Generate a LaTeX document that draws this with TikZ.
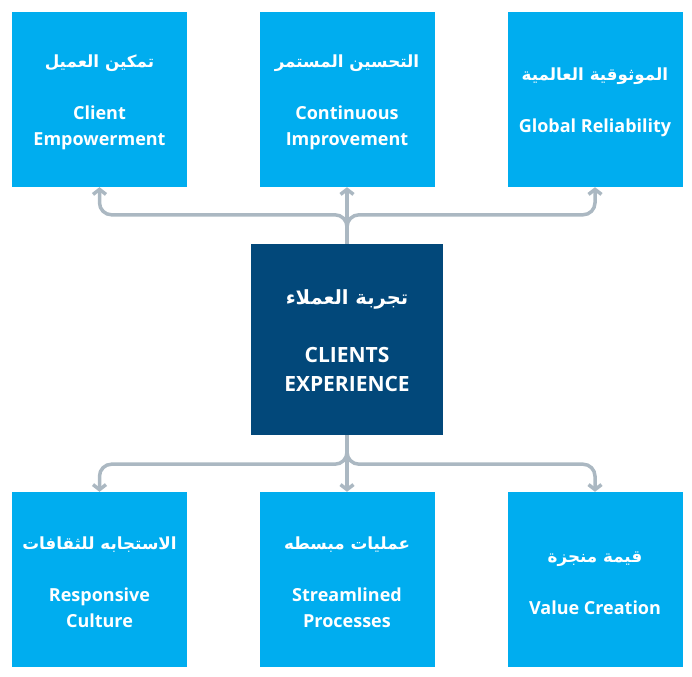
\documentclass[tikz,border=0pt]{standalone}
\usepackage{fontspec}
\setmainfont{Open Sans}
\newfontfamily\arabicfont[Script=Arabic,Scale=0.93]{DejaVu Sans}
\TeXXeTstate=1
\usetikzlibrary{positioning,arrows.meta}

\definecolor{skyblue}{HTML}{00ADEF}
\definecolor{navy}{HTML}{02487A}
\definecolor{linkgray}{HTML}{ABB8C2}

\newcommand{\twotext}[3][26pt]{\rule{0pt}{18pt}{\arabicfont\bfseries\beginR #2\endR}\\[#1]#3}

\begin{document}
\begin{tikzpicture}[x=1pt,y=-1pt,
    box/.style  = {fill=skyblue,text=white,font=\bfseries\fontsize{18}{26}\selectfont,
                   minimum width=175pt,minimum height=175pt,align=center,inner sep=0pt},
    root/.style = {box,fill=navy,minimum width=192pt,minimum height=191pt,
                   font=\bfseries\fontsize{21}{29}\selectfont},
    link/.style = {draw=linkgray,line width=3.5pt,rounded corners=12pt,
                   -{Straight Barb[length=5pt,width=13pt]}},
  ]
  \useasboundingbox (0,0) rectangle (692,676);

  % centre
  \node[root](exp) at (347,339.5) {\twotext[29pt]{تجربة العملاء}{CLIENTS\\EXPERIENCE}};

  % top row
  \node[box](emp)  at (99.5,99.5) {\twotext{تمكين العميل}{Client\\Empowerment}};
  \node[box](impr) at (347,99.5)  {\twotext{التحسين المستمر}{Continuous\\Improvement}};
  \node[box](rel)  at (595,99.5)  {\twotext{الموثوقية العالمية}{Global Reliability}};

  % bottom row
  \node[box](resp) at (99.5,579.5) {\twotext{الاستجابه للثقافات}{Responsive\\Culture}};
  \node[box](proc) at (347,579.5)  {\twotext{عمليات مبسطه}{Streamlined\\Processes}};
  \node[box](val)  at (595,579.5)  {\twotext{قيمة منجزة}{Value Creation}};

  % links up
  \draw[link] (exp.north) -- ++(0,-29) -| (emp.south);
  \draw[link] (exp.north) -- (impr.south);
  \draw[link] (exp.north) -- ++(0,-29) -| (rel.south);

  % links down
  \draw[link] (exp.south) -- ++(0,29) -| (resp.north);
  \draw[link] (exp.south) -- (proc.north);
  \draw[link] (exp.south) -- ++(0,29) -| (val.north);
\end{tikzpicture}
\end{document}
